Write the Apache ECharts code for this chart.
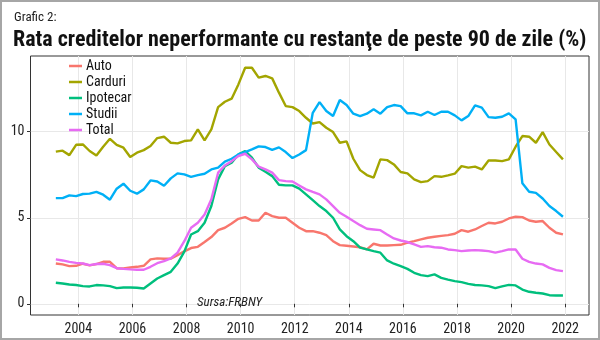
<!DOCTYPE html>
<html>
<head>
<meta charset="utf-8">
<script src="https://cdn.jsdelivr.net/npm/echarts@6/dist/echarts.min.js"></script>
<style>
html,body{margin:0;padding:0;background:#fff;}
#wrap{position:relative;width:600px;height:340px;}
#chart{width:600px;height:340px;}
#frame{position:absolute;left:0;top:0;width:600px;height:340px;box-sizing:border-box;border:2px solid #a6a6a6;pointer-events:none;}
</style>
</head>
<body>
<div id="wrap"><div id="chart"></div><div id="frame"></div></div>
<script>
// Quarterly observations, 2003 T1 .. 2021 T4 (plotted at the last month of each quarter)
const firstYear = 2003, lastYear = 2021;
const quarters = [];
for (let y = firstYear; y <= lastYear; y++) {
  for (let q = 1; q <= 4; q++) quarters.push(y + (q * 3 - 1) / 12);
}
const seriesNames = ['Auto', 'Carduri', 'Ipotecar', 'Studii', 'Total'];
const auto = [2.34,2.29,2.19,2.21,2.33,2.23,2.31,2.44,2.44,2.07,2.05,2.11,2.15,2.21,2.58,2.64,2.62,2.62,2.83,3.05,
  3.24,3.31,3.59,3.88,4.28,4.42,4.67,4.94,5.04,4.84,4.84,5.29,5.10,5.00,5.00,4.71,4.42,4.22,4.22,4.13,
  3.99,3.64,3.41,3.37,3.33,3.29,3.16,3.49,3.39,3.39,3.41,3.43,3.55,3.64,3.74,3.84,3.90,3.95,3.99,4.07,
  4.28,4.19,4.32,4.52,4.71,4.67,4.77,4.96,5.06,5.04,4.84,4.77,4.81,4.42,4.13,4.03];
const carduri = [8.84,8.90,8.64,9.24,9.26,8.88,8.62,9.13,9.59,9.24,9.07,8.53,8.78,8.93,9.17,9.63,9.71,9.36,9.32,9.46,
  9.50,10.14,9.50,10.14,11.43,11.74,11.92,12.75,13.72,13.72,13.14,13.24,13.10,12.27,11.49,11.43,11.20,10.81,10.48,10.56,
  10.23,9.98,9.36,9.44,8.43,7.77,7.48,7.33,8.39,8.35,8.10,7.66,7.58,7.23,7.07,7.13,7.42,7.38,7.46,7.56,
  8.00,7.91,7.97,7.81,8.33,8.33,8.29,8.39,9.13,9.75,9.71,9.36,9.98,9.26,8.82,8.39];
const ipotecar = [1.22,1.18,1.12,1.09,1.03,1.01,1.09,1.07,1.03,0.91,0.95,0.95,0.93,0.89,1.18,1.47,1.67,1.86,2.34,3.03,
  4.03,4.22,4.71,5.68,7.23,8.00,8.20,8.68,8.88,8.49,7.91,7.67,7.42,6.92,6.88,6.88,6.69,6.36,6.02,5.68,
  5.39,5.00,4.32,3.93,3.64,3.26,3.16,3.06,2.97,2.52,2.33,2.19,2.03,1.80,1.67,1.61,1.71,1.51,1.41,1.32,
  1.26,1.16,1.09,1.07,1.03,0.91,1.01,1.10,1.07,0.83,0.70,0.64,0.60,0.50,0.48,0.48];
const studii = [6.14,6.14,6.30,6.26,6.38,6.40,6.51,6.34,6.05,6.69,6.98,6.57,6.40,6.65,7.17,7.11,6.86,7.29,7.58,7.52,
  7.38,7.48,7.56,7.81,7.91,8.26,8.43,8.68,8.82,8.97,9.15,9.11,8.95,9.09,8.82,8.47,8.68,8.93,11.10,11.72,
  11.20,10.91,11.84,11.55,11.05,10.91,11.05,11.30,11.05,11.43,11.55,11.49,11.07,11.07,10.95,11.16,10.97,11.16,11.16,10.95,
  10.66,10.91,11.53,11.40,10.85,10.81,10.87,11.07,10.72,7.00,6.51,6.45,6.12,5.68,5.39,5.06];
const total = [2.58,2.52,2.44,2.38,2.34,2.25,2.31,2.33,2.25,2.07,2.03,2.00,1.98,1.98,2.15,2.36,2.48,2.64,2.97,3.64,
  4.42,4.71,5.19,6.07,7.62,8.04,8.29,8.59,8.72,8.39,7.97,7.81,7.62,7.19,7.13,7.11,6.88,6.65,6.50,6.36,
  6.07,5.68,5.29,5.06,4.81,4.57,4.36,4.32,4.28,4.03,3.80,3.68,3.59,3.45,3.31,3.35,3.29,3.26,3.16,3.12,
  3.06,3.10,3.12,3.10,3.06,2.97,3.06,3.16,3.16,2.62,2.44,2.34,2.29,2.09,1.96,1.90];
const xTicks = [2004,2006,2008,2010,2012,2014,2016,2018,2020,2022];
const yTicks = [0,5,10];
const colors = ['#F8766D','#A3A500','#00BF7D','#00B0F6','#E76BF3'];
const titleSmall = 'Grafic 2:';
const titleMain = 'Rata creditelor neperformante cu restanţe de peste 90 de zile (%)';
const sourceText = 'Sursa:FRBNY';

const FONT = '"Roboto Condensed", "Open Sans Condensed", sans-serif';
const allData = [auto, carduri, ipotecar, studii, total];

const chart = echarts.init(document.getElementById('chart'), null, {renderer: 'canvas'});
chart.setOption({
  animation: false,
  backgroundColor: '#fff',
  color: colors,
  title: [
    {text: titleSmall, left: 9, top: 6, textStyle: {fontFamily: FONT, fontSize: 13, fontWeight: 'normal', color: '#222'}},
    {text: titleMain, left: 8, top: 24, textStyle: {fontFamily: FONT, fontSize: 22, fontWeight: 'bold', color: '#111'}},
    {text: sourceText, left: 192, top: 291, textStyle: {fontFamily: FONT, fontSize: 13, fontStyle: 'italic', fontWeight: 'normal', color: '#222'}}
  ],
  legend: {
    orient: 'vertical', left: 64, top: 54,
    icon: 'rect', itemWidth: 13, itemHeight: 2.5, itemGap: 2,
    textStyle: {fontFamily: FONT, fontSize: 14, color: '#111', lineHeight: 14, padding: [0,0,0,-1]},
    data: seriesNames
  },
  grid: {left: 30.5, right: 11, top: 56, bottom: 25, show: true, borderColor: '#333', borderWidth: 1, backgroundColor: '#fff'},
  xAxis: {
    type: 'value', min: 2002.23, max: 2022.88, interval: 1,
    axisLine: {show: false},
    axisTick: {show: true, length: 3.5, lineStyle: {color: '#333'}, customValues: xTicks},
    axisLabel: {fontFamily: FONT, fontSize: 14, color: '#222', margin: 7, customValues: xTicks, formatter: v => String(v)},
    splitLine: {show: true, lineStyle: {color: '#e8e8e8', width: 1}}
  },
  yAxis: {
    type: 'value', min: -0.65, max: 14.4, interval: 2.5,
    axisLine: {show: false},
    axisTick: {show: true, length: 3.5, lineStyle: {color: '#333'}, customValues: yTicks},
    axisLabel: {fontFamily: FONT, fontSize: 14, color: '#222', margin: 6, customValues: yTicks, formatter: v => String(v)},
    splitLine: {show: true, lineStyle: {color: '#e8e8e8', width: 1}}
  },
  series: seriesNames.map((name, k) => ({
    name: name, type: 'line', showSymbol: false, symbol: 'none',
    lineStyle: {width: 2.4, color: colors[k]}, itemStyle: {color: colors[k]},
    data: quarters.map((q, i) => [q, allData[k][i]])
  }))
});
</script>
</body>
</html>
